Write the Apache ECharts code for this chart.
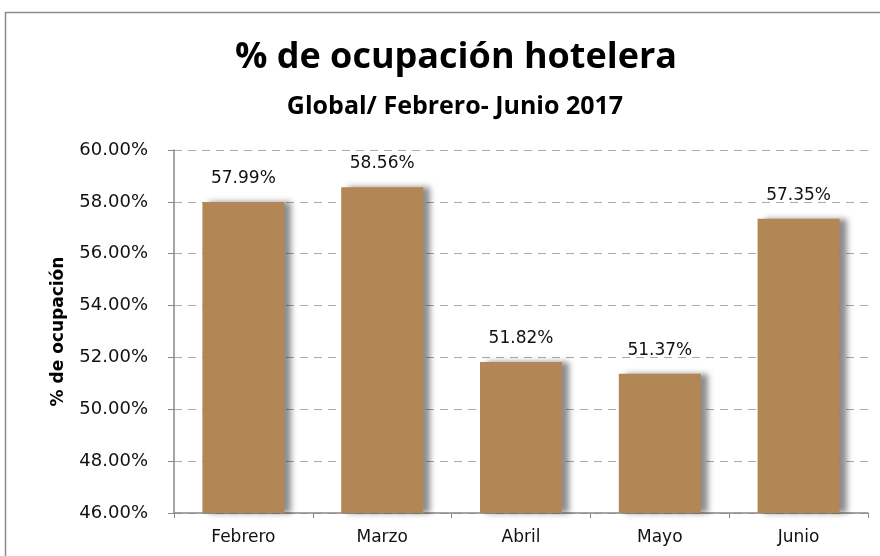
<!DOCTYPE html>
<html>
<head>
<meta charset="utf-8">
<script src="https://cdn.jsdelivr.net/npm/echarts@6/dist/echarts.min.js"></script>
<style>
  html, body { margin: 0; padding: 0; background: #fff; }
  #chart { width: 880px; height: 556px; }
</style>
</head>
<body>
<div id="chart"></div>
<script>
// datos
var meses = ['Febrero', 'Marzo', 'Abril', 'Mayo', 'Junio'];
var ocupacion = [57.99, 58.56, 51.82, 51.37, 57.35];
var yMin = 46, yMax = 60, yStep = 2;

var myChart = echarts.init(document.getElementById('chart'));
var option = {
  backgroundColor: '#fff',
  animation: false,
  graphic: [
    {
      type: 'rect',
      shape: { x: 5.5, y: 12.5, width: 900, height: 600 },
      style: { fill: 'none', stroke: '#8c8c8c', lineWidth: 1.5 }
    }
  ],
  title: [
    {
      text: '% de ocupación hotelera',
      left: 451,
      textAlign: 'center',
      top: 35,
      textStyle: { fontFamily: 'Open Sans', fontWeight: 'bold', fontSize: 36, color: '#000' }
    },
    {
      text: 'Global/ Febrero- Junio 2017',
      left: 450,
      textAlign: 'center',
      top: 89,
      textStyle: { fontFamily: 'Open Sans', fontWeight: 'bold', fontSize: 25, color: '#000' }
    }
  ],
  grid: { left: 174, right: 12, top: 150, bottom: 43 },
  xAxis: {
    type: 'category',
    data: meses,
    axisLine: { lineStyle: { color: '#888', width: 1.5 } },
    axisTick: { show: true, length: 5, lineStyle: { color: '#888' } },
    axisLabel: { margin: 16, fontFamily: 'DejaVu Sans', fontSize: 17, color: '#111' }
  },
  yAxis: {
    type: 'value',
    min: yMin,
    max: yMax,
    interval: yStep,
    name: '% de ocupación',
    nameLocation: 'middle',
    nameGap: 107,
    nameRotate: 90,
    nameTextStyle: { fontFamily: 'DejaVu Sans', fontWeight: 'bold', fontSize: 17, color: '#000' },
    axisLine: { show: true, lineStyle: { color: '#888', width: 1.5 } },
    axisTick: { show: true, length: 6, inside: false, lineStyle: { color: '#888' } },
    axisLabel: {
      margin: 26,
      fontFamily: 'DejaVu Sans',
      fontSize: 18,
      color: '#111',
      formatter: function (v) { return v.toFixed(2) + '%'; }
    },
    splitLine: { lineStyle: { color: '#aaa', type: [8, 6], width: 1 } }
  },
  series: [
    {
      type: 'bar',
      data: ocupacion,
      barWidth: 82,
      itemStyle: {
        color: '#b38656',
        shadowColor: 'rgba(0,0,0,0.45)',
        shadowBlur: 6,
        shadowOffsetX: 7
      },
      label: {
        show: true,
        position: 'top',
        distance: 15,
        fontFamily: 'DejaVu Sans',
        fontSize: 17,
        color: '#111',
        formatter: function (p) { return p.value.toFixed(2) + '%'; }
      }
    }
  ]
};
myChart.setOption(option);
window.onresize = function () { myChart.resize(); };
</script>
</body>
</html>
